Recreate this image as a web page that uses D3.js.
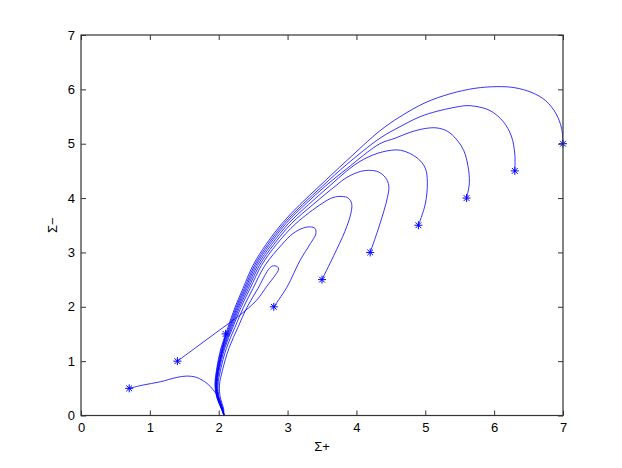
<!DOCTYPE html>
<html>
<head>
<meta charset="utf-8">
<script src="https://cdn.jsdelivr.net/npm/d3@7"></script>
<style>
  body { margin: 0; background: #fff; }
  text { font-family: "Liberation Sans", Arial, Helvetica, sans-serif; }
</style>
</head>
<body>
<div id="chart"></div>
<script>
// tick values
var xTicks = [0, 1, 2, 3, 4, 5, 6, 7];
var yTicks = [0, 1, 2, 3, 4, 5, 6, 7];

// starting points (the asterisks)
var startX = [0.7, 1.4, 2.1, 2.8, 3.5, 4.2, 4.9, 5.6, 6.3, 7.0];
var startY = [0.5, 1.0, 1.5, 2.0, 2.5, 3.0, 3.5, 4.0, 4.5, 5.0];

// trajectories as [Sigma+, Sigma-]
var traj1 = [[0.70,0.50],[0.90,0.56],[1.15,0.62],[1.39,0.70],[1.53,0.725],[1.68,0.70],[1.83,0.59],[1.92,0.47],[2.00,0.33],[2.05,0.16],[2.08,0]];
var traj2 = [[1.40,1.00],[1.70,1.28],[2.00,1.56],[2.30,1.84],[2.55,2.12],[2.70,2.38],[2.82,2.58],[2.87,2.69],[2.85,2.74],[2.78,2.75],[2.72,2.68],[2.571,2.340],[2.411,1.991],[2.280,1.624],[2.149,1.239],[2.055,0.835],[2.011,0.560],[2.024,0.321],[2.069,0.138],[2.077,0]];
var traj3 = [[2.10,1.50],[2.06,1.24],[1.99,0.835],[1.97,0.56],[1.99,0.32],[2.045,0.14],[2.077,0]];
var traj4 = [[2.80,2.00],[2.99,2.36],[3.18,2.85],[3.33,3.16],[3.41,3.34],[3.40,3.44],[3.33,3.47],[3.23,3.45],[3.08,3.35],[2.919,3.147],[2.672,2.762],[2.498,2.340],[2.360,1.991],[2.236,1.624],[2.112,1.239],[2.026,0.835],[1.990,0.560],[2.007,0.321],[2.054,0.138],[2.077,0]];
var traj5 = [[3.50,2.50],[3.67,2.94],[3.83,3.38],[3.92,3.72],[3.93,3.90],[3.88,4.00],[3.79,4.03],[3.66,4.01],[3.500,3.900],[3.122,3.533],[2.839,3.147],[2.621,2.762],[2.457,2.340],[2.324,1.991],[2.205,1.624],[2.088,1.239],[2.008,0.835],[1.977,0.560],[1.998,0.321],[2.048,0.138],[2.077,0]];
var traj6 = [[4.20,3.00],[4.34,3.52],[4.45,4.01],[4.47,4.23],[4.42,4.38],[4.32,4.48],[4.21,4.51],[4.06,4.49],[3.86,4.38],[3.703,4.230],[3.369,3.881],[3.057,3.533],[2.800,3.147],[2.591,2.762],[2.431,2.340],[2.302,1.991],[2.189,1.624],[2.075,1.239],[1.998,0.835],[1.970,0.560],[1.993,0.321],[2.045,0.138],[2.077,0]];
var traj7 = [[4.90,3.50],[5.00,3.89],[5.03,4.29],[5.00,4.55],[4.88,4.74],[4.64,4.88],[4.38,4.85],[4.10,4.71],[3.86,4.50],[3.616,4.230],[3.304,3.881],[3.013,3.533],[2.767,3.147],[2.565,2.762],[2.409,2.340],[2.284,1.991],[2.174,1.624],[2.064,1.239],[1.990,0.835],[1.963,0.560],[1.988,0.321],[2.042,0.138],[2.077,0]];
var traj8 = [[5.60,4.00],[5.64,4.28],[5.62,4.59],[5.56,4.87],[5.46,5.07],[5.32,5.23],[5.17,5.29],[5.00,5.28],[4.78,5.21],[4.56,5.10],[4.34,5.00],[3.86,4.54],[3.558,4.230],[3.253,3.881],[2.977,3.533],[2.738,3.147],[2.541,2.762],[2.390,2.340],[2.268,1.991],[2.161,1.624],[2.054,1.239],[1.982,0.835],[1.958,0.560],[1.984,0.321],[2.039,0.138],[2.077,0]];
var traj9 = [[6.30,4.50],[6.30,4.81],[6.25,5.14],[6.13,5.41],[5.94,5.61],[5.72,5.69],[5.59,5.70],[5.39,5.66],[5.170,5.597],[4.923,5.496],[4.633,5.313],[4.342,5.102],[3.86,4.62],[3.515,4.230],[3.217,3.881],[2.948,3.533],[2.713,3.147],[2.520,2.762],[2.372,2.340],[2.253,1.991],[2.148,1.624],[2.043,1.239],[1.975,0.835],[1.952,0.560],[1.979,0.321],[2.036,0.138],[2.077,0]];
var traj10 = [[7.00,5.00],[6.98,5.28],[6.90,5.55],[6.75,5.79],[6.55,5.94],[6.30,6.03],[6.04,6.05],[5.72,6.019],[5.359,5.918],[4.996,5.753],[4.633,5.496],[4.342,5.239],[3.86,4.69],[3.471,4.230],[3.180,3.881],[2.919,3.533],[2.687,3.147],[2.498,2.762],[2.353,2.340],[2.237,1.991],[2.135,1.624],[2.033,1.239],[1.968,0.835],[1.946,0.560],[1.975,0.321],[2.033,0.138],[2.077,0]];

var trajectories = [traj1, traj2, traj3, traj4, traj5, traj6, traj7, traj8, traj9, traj10];

// figure size and axes box (matlab default position)
var width = 622, height = 468;
var box = {left: 81, right: 563, top: 35, bottom: 415.5};
var lineColor = "#0000ff";

var svg = d3.select("#chart")
  .append("svg")
    .attr("width", width)
    .attr("height", height);

var x = d3.scaleLinear().domain([0, 7]).range([box.left, box.right]);
var y = d3.scaleLinear().domain([0, 7]).range([box.bottom, box.top]);

svg.append("defs").append("clipPath")
    .attr("id", "plotclip")
  .append("rect")
    .attr("x", box.left)
    .attr("y", box.top)
    .attr("width", box.right - box.left)
    .attr("height", box.bottom - box.top);

// trajectories
var line = d3.line()
  .x(function(d) { return x(d[0]); })
  .y(function(d) { return y(d[1]); })
  .curve(d3.curveCatmullRom.alpha(0.5));

svg.append("g")
    .attr("clip-path", "url(#plotclip)")
  .selectAll("path")
  .data(trajectories)
  .enter()
  .append("path")
    .attr("d", line)
    .attr("fill", "none")
    .attr("stroke", lineColor)
    .attr("stroke-width", 0.8);

// matlab style '*' marker
var asterisk = {
  draw: function(context, size) {
    var r = Math.sqrt(size) / 2, q = r * 0.72;
    context.moveTo(-r, 0); context.lineTo(r, 0);
    context.moveTo(0, -r); context.lineTo(0, r);
    context.moveTo(-q, -q); context.lineTo(q, q);
    context.moveTo(-q, q); context.lineTo(q, -q);
  }
};

svg.append("g")
  .selectAll("path")
  .data(startX)
  .enter()
  .append("path")
    .attr("transform", function(d, i) { return "translate(" + x(d) + "," + y(startY[i]) + ")"; })
    .attr("d", d3.symbol().type(asterisk).size(64))
    .attr("fill", "none")
    .attr("stroke", lineColor)
    .attr("stroke-width", 1);

// axes, ticks point inward on all four sides
var axisColor = "#333";
var fmt = d3.format("d");

var gx = svg.append("g")
  .attr("transform", "translate(0," + box.bottom + ")")
  .call(d3.axisBottom(x).tickValues(xTicks).tickFormat(fmt).tickSizeInner(-5).tickSizeOuter(0).tickPadding(7));
var gy = svg.append("g")
  .attr("transform", "translate(" + box.left + ",0)")
  .call(d3.axisLeft(y).tickValues(yTicks).tickFormat(fmt).tickSizeInner(-5).tickSizeOuter(0).tickPadding(6));
var gt = svg.append("g")
  .attr("transform", "translate(0," + box.top + ")")
  .call(d3.axisTop(x).tickValues(xTicks).tickSizeInner(-5).tickSizeOuter(0).tickFormat(""));
var gr = svg.append("g")
  .attr("transform", "translate(" + box.right + ",0)")
  .call(d3.axisRight(y).tickValues(yTicks).tickSizeInner(-5).tickSizeOuter(0).tickFormat(""));

[gx, gy, gt, gr].forEach(function(g) {
  g.select(".domain").remove();
  g.selectAll(".tick line").attr("stroke", axisColor).attr("stroke-width", 1);
  g.selectAll(".tick text").attr("fill", "#000").style("font-size", "13px");
});

svg.append("rect")
  .attr("x", box.left)
  .attr("y", box.top)
  .attr("width", box.right - box.left)
  .attr("height", box.bottom - box.top)
  .attr("fill", "none")
  .attr("stroke", axisColor)
  .attr("stroke-width", 1.2);

// axis labels
svg.append("text")
  .attr("x", (box.left + box.right) / 2)
  .attr("y", 451)
  .attr("text-anchor", "middle")
  .style("font-size", "13px")
  .text("Σ+");

svg.append("text")
  .attr("transform", "translate(57," + (box.top + box.bottom) / 2 + ") rotate(-90)")
  .attr("text-anchor", "middle")
  .style("font-size", "13px")
  .text("Σ−");
</script>
</body>
</html>
